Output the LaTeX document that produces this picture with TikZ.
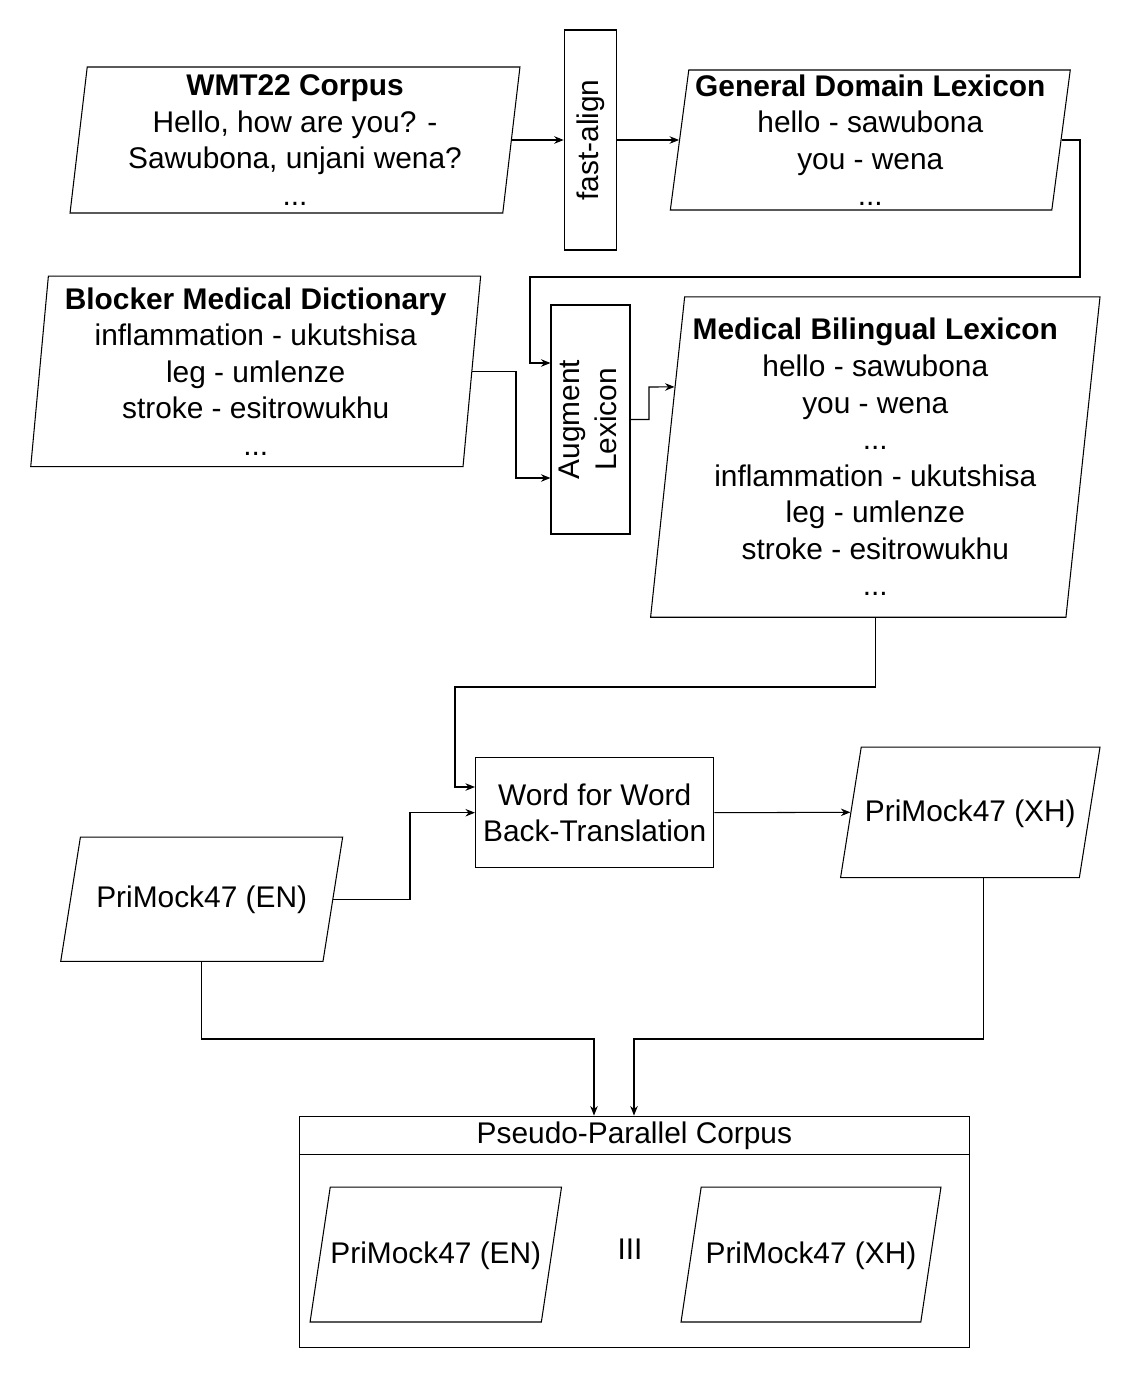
\documentclass[tikz,border=0pt]{standalone}
\usepackage{fontspec}
\setmainfont{Liberation Sans}
\usetikzlibrary{positioning}
\usetikzlibrary{shapes.geometric}
\usetikzlibrary{calc}
\usetikzlibrary{arrows.meta}

\begin{document}
\begin{tikzpicture}[x=0.02cm, y=-0.02cm, line width=0.6pt,
  font=\fontsize{17}{20.8}\selectfont,
  para/.style 2 args={draw, trapezium, trapezium left angle=#1, trapezium right angle=#2,
    trapezium stretches body=true, inner sep=0pt, align=center},
  flat/.style={text height=1em, text depth=0em, inner ysep=#1},
  box/.style={draw, rectangle, inner sep=0pt, align=center},
  arr/.style={-{Stealth[length=1.9mm,width=1.5mm]}}]

\useasboundingbox (0,0) rectangle (1131,1379);

% Sources and lexicons
\node[para={82.5}{97.5}, minimum width=9cm, minimum height=2.92cm] (wmt) at (295,140)
  {\textbf{WMT22 Corpus}\\Hello, how are you? -\\Sawubona, unjani wena?\\...};
\node[para={82}{98}, minimum width=8cm, minimum height=2.8cm] (gdl) at (870.3,140)
  {\textbf{General Domain Lexicon}\\hello - sawubona\\you - wena\\...};
\node[para={84}{96}, minimum width=9cm, minimum height=3.81cm] (bmd) at (255.7,371.3)
  {\textbf{Blocker Medical Dictionary}\\inflammation - ukutshisa\\leg - umlenze\\stroke - esitrowukhu\\...};
\node[para={83}{97}, minimum width=8.99cm, minimum height=6.41cm] (mbl) at (875.3,457)
  {\textbf{Medical Bilingual Lexicon}\\hello - sawubona\\you - wena\\...\\inflammation - ukutshisa\\leg - umlenze\\stroke - esitrowukhu\\...};

% Steps
\node[box, minimum width=1.05cm, minimum height=4.4cm] (fast) at (590.5,140)
  {\rotatebox{90}{fast-align}};
\node[box, minimum width=1.58cm, minimum height=4.58cm] (aug) at (590.5,419.5)
  {\rotatebox{90}{\begin{tabular}{@{}c@{}}Augment\\Lexicon\end{tabular}}};
\node[box, minimum width=4.77cm, minimum height=2.21cm] (wfw) at (594.7,812.7)
  {Word for Word\\Back-Translation};

% PriMock47 data
\node[para={81}{99}, flat=1.067cm, minimum width=5.64cm] (en) at (201.7,899.2)
  {PriMock47 (EN)};
\node[para={81}{99}, flat=1.13cm, minimum width=5.19cm] (xh) at (970.3,812.3)
  {PriMock47 (XH)};

% Pseudo-parallel corpus container
\node[box, minimum width=13.41cm, minimum height=0.774cm] (ppc) at (634.4,1135.4)
  {Pseudo-Parallel Corpus};
\node[box, minimum width=13.41cm, minimum height=3.85cm] (ppcbody) at (634.4,1251) {};
\node[para={81.5}{98.5}, flat=1.174cm, minimum width=5.03cm] (en2) at (435.8,1254.5)
  {PriMock47 (EN)};
\node[para={81.5}{98.5}, flat=1.174cm, minimum width=5.2cm] (xh2) at (811,1254.5)
  {PriMock47 (XH)};
\node[anchor=base, inner sep=0pt] (sep) at (630,1259) {III};

% Top row: corpus -> fast-align -> general lexicon
\draw[arr] (wmt.east) -- (wmt.east -| fast.west);
\draw[arr] (fast.east |- gdl.west) -- (gdl.west);

% General lexicon down into augment
\coordinate (g1) at (1080,277);
\coordinate (g2) at (530,363);
\draw[arr] (gdl.east) -| (g1) -| (g2) -- (g2 -| aug.west);

% Dictionary into augment
\coordinate (b1) at (516,478);
\draw[arr] (bmd.east) -| (b1) -- (b1 -| aug.west);

% Augment out to medical lexicon
\coordinate (a1) at (649,387);
\coordinate (m1) at ($(mbl.bottom left corner)!0.718!(mbl.top left corner)$);
\draw[arr] (aug.east) -| (a1) -- (m1);

% Medical lexicon to back-translation
\coordinate (m2) at (455,687);
\coordinate (w1) at (455,787);
\draw[arr] (mbl.south) |- (m2) -- (w1) -- (w1 -| wfw.west);

% EN into back-translation
\coordinate (e1) at (410,860);
\draw[arr] (en.east) -| (e1) |- (wfw.west);

% Back-translation to XH
\draw[arr] (wfw.east) -- (xh.west);

% Both into the pseudo-parallel corpus
\coordinate (p1) at (594,1039);
\coordinate (p2) at (634,1039);
\draw[arr] (en.south) |- (p1) -- (p1 |- ppc.north);
\draw[arr] ([xshift=0.26cm]xh.south) |- (p2) -- (p2 |- ppc.north);

\end{tikzpicture}
\end{document}
